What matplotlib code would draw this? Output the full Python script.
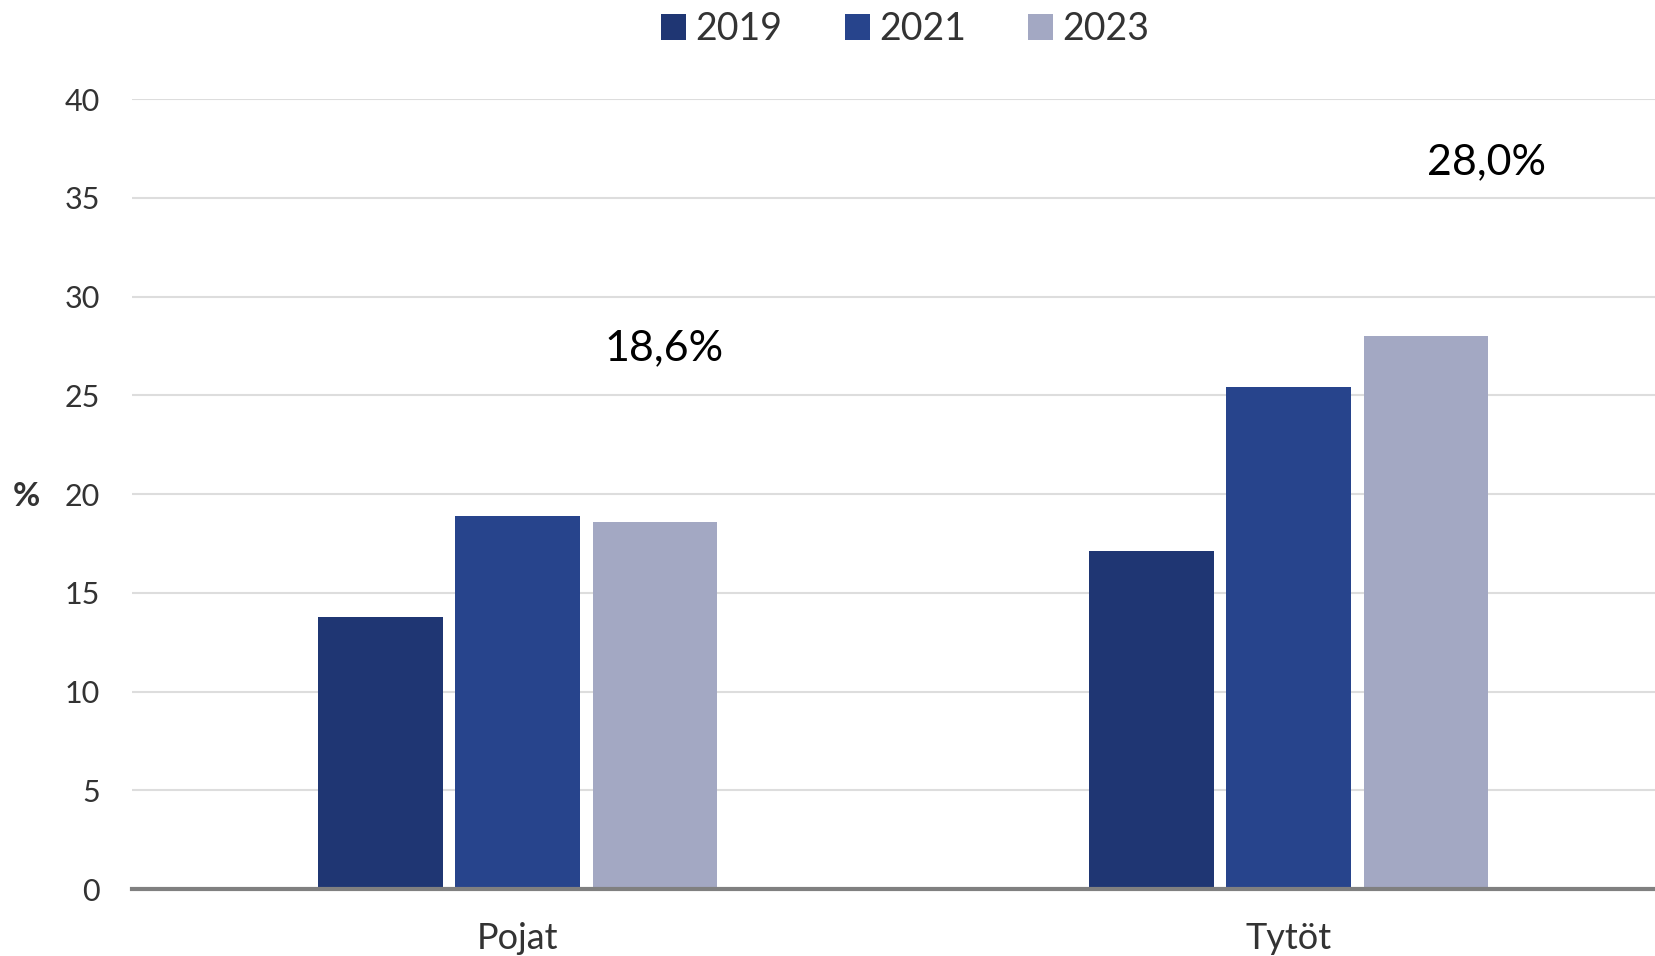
import matplotlib
matplotlib.use("Agg")
import numpy as np
from matplotlib import pyplot as plt
from matplotlib.patches import Patch

# Data
categories = ["Pojat", "Tytöt"]
years = ["2019", "2021", "2023"]
values_2019 = [13.8, 17.1]
values_2021 = [18.9, 25.4]
values_2023 = [18.6, 28.0]
label_texts = ["18,6%", "28,0%"]
yticks = [0, 5, 10, 15, 20, 25, 30, 35, 40]

colors = ["#1f3673", "#27448c", "#a3a8c3"]
text_color = "#333333"

plt.rcParams["font.family"] = ["Lato", "DejaVu Sans"]

fig = plt.figure(figsize=(16.55, 9.56), dpi=100)
ax = fig.add_axes([0.0798, 0.070, 0.9202, 0.8264])

x = np.arange(len(categories))
width = 0.1615
step = 0.178
series = [values_2019, values_2021, values_2023]
for i, (vals, col) in enumerate(zip(series, colors)):
    ax.bar(x + (i - 1) * step, vals, width=width, color=col, zorder=3)

# value labels above the 2023 bars
label_dx = [0.012, 0.078]
for xi, v, t, dx in zip(x, values_2023, label_texts, label_dx):
    ax.text(xi + step + dx, v + 8.8, t, ha="center", va="center",
            fontsize=31, color="black")

ax.set_ylim(0, 40)
ax.set_xlim(-0.5, 1.475)
ax.set_yticks(yticks)
ax.set_yticklabels([str(t) for t in yticks])
ax.set_xticks(x)
ax.set_xticklabels(categories)
ax.tick_params(axis="y", length=0, pad=23, labelsize=22, labelcolor=text_color)
ax.tick_params(axis="x", length=0, pad=24, labelsize=26, labelcolor=text_color)

ax.grid(axis="y", color="#dddddd", linewidth=1.5, zorder=0)
for s in ["top", "right", "left"]:
    ax.spines[s].set_visible(False)
ax.spines["bottom"].set_color("#808080")
ax.spines["bottom"].set_linewidth(3)
ax.spines["bottom"].set_zorder(4)

fig.text(0.008, 1 - 497 / 956, "%", fontsize=24, fontweight="bold",
         color=text_color, ha="left", va="center")

handles = [Patch(facecolor=c, edgecolor="none") for c in colors]
fig.legend(handles, years, loc="center", bbox_to_anchor=(0.547, 1 - 29 / 956),
           ncol=3, frameon=False, fontsize=27, handlelength=0.67,
           handleheight=0.67, handletextpad=0.25, columnspacing=1.65,
           labelcolor=text_color)

fig.savefig("out.png", dpi=100)
